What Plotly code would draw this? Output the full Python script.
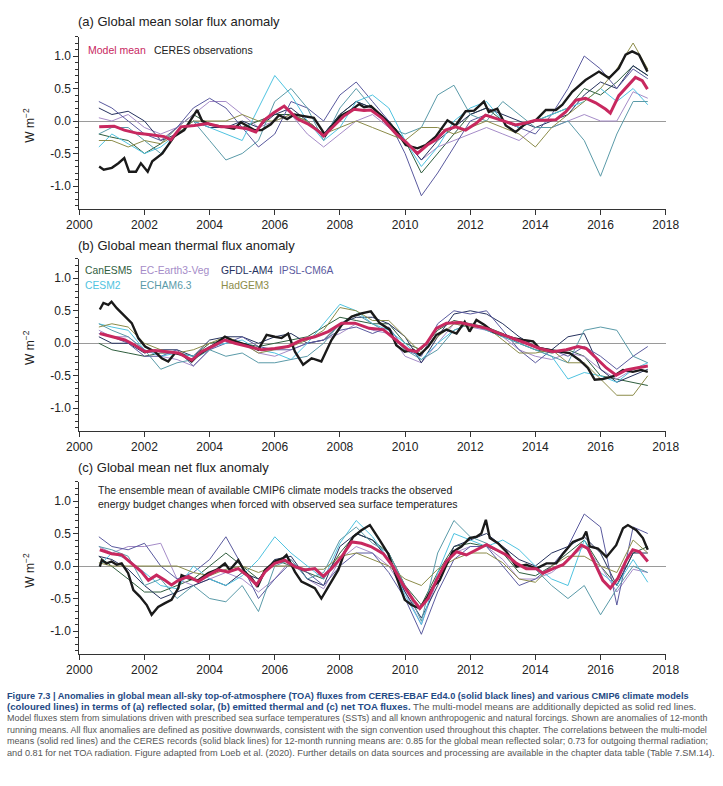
import plotly.graph_objects as go

W, H = 723, 786
FONT = "Liberation Sans, Arial, sans-serif"

# ---------------- data ----------------
model_names = ["CanESM5", "EC-Earth3-Veg", "GFDL-AM4", "IPSL-CM6A", "CESM2", "ECHAM6.3", "HadGEM3"]
model_colors = ["#2f5e3e", "#a58cc8", "#26325e", "#5a5a9e", "#4fc3e0", "#5a9aa8", "#8c8c4a"]

model_years = [2000.6, 2001.0, 2001.5, 2002.0, 2002.5, 2003.0, 2003.5, 2004.0, 2004.5, 2005.0,
               2005.5, 2006.0, 2006.5, 2007.0, 2007.5, 2008.0, 2008.5, 2009.0, 2009.5, 2010.0,
               2010.5, 2011.0, 2011.5, 2012.0, 2012.5, 2013.0, 2013.5, 2014.0, 2014.5, 2015.0,
               2015.5, 2016.0, 2016.5, 2017.0, 2017.45]

# (a) solar
solar_CanESM5 = [-0.2, -0.25, -0.3, -0.5, -0.35, -0.1, 0.1, -0.05, -0.1, -0.1, 0.0, 0.1, 0.1, 0.0, -0.2, 0.1, 0.3, 0.2, 0.0, -0.3, -0.8, -0.5, -0.2, 0.1, 0.2, 0.0, -0.1, 0.0, 0.1, 0.2, 0.5, 0.4, 0.6, 0.85, 0.7]
solar_ECEarth = [0.05, 0.0, 0.1, -0.1, -0.2, -0.1, 0.1, 0.3, 0.3, 0.1, -0.1, 0.0, 0.1, -0.2, -0.4, -0.2, 0.0, 0.1, -0.1, -0.3, -0.6, -0.4, -0.3, -0.2, -0.1, -0.2, -0.3, -0.1, -0.1, 0.0, 0.1, 0.0, 0.0, 0.45, 0.35]
solar_GFDL = [0.2, 0.1, 0.15, 0.0, -0.3, -0.2, 0.0, -0.1, -0.1, 0.0, -0.1, 0.1, 0.2, 0.0, -0.2, 0.1, 0.3, 0.2, 0.0, -0.3, -0.6, -0.3, -0.1, 0.1, 0.2, 0.1, 0.0, -0.1, 0.0, 0.1, 0.4, 0.6, 0.5, 0.85, 0.7]
solar_IPSL = [0.3, 0.2, 0.0, -0.2, -0.3, -0.1, 0.2, 0.35, 0.2, -0.1, -0.4, -0.2, 0.3, 0.2, 0.0, 0.4, 0.6, 0.3, 0.0, -0.5, -1.15, -0.8, -0.4, 0.0, 0.1, 0.0, -0.1, -0.2, 0.1, 0.5, 1.0, 0.8, 0.5, 0.8, 0.65]
solar_CESM2 = [-0.4, -0.2, -0.35, -0.5, -0.4, -0.2, 0.0, -0.1, -0.2, -0.3, 0.2, 0.7, 0.4, 0.0, -0.3, -0.1, 0.3, 0.4, 0.2, -0.3, -0.7, -0.4, 0.0, 0.2, 0.3, 0.0, -0.1, 0.0, 0.1, 0.2, 0.3, 0.5, 0.3, 0.5, 0.25]
solar_ECHAM = [-0.2, -0.1, -0.1, -0.3, -0.5, -0.2, 0.0, -0.3, -0.6, -0.5, -0.3, 0.3, 0.5, 0.2, -0.3, 0.2, 0.5, 0.2, -0.1, -0.2, -0.1, 0.4, 0.55, 0.1, 0.0, 0.3, 0.1, -0.1, -0.1, 0.0, -0.3, -0.85, -0.2, 0.3, 0.3]
solar_HadGEM3 = [-0.3, -0.3, -0.4, -0.3, -0.35, -0.2, 0.0, 0.0, 0.0, 0.1, 0.0, 0.0, 0.1, 0.0, -0.2, -0.1, 0.0, -0.1, -0.2, -0.3, -0.1, -0.1, -0.2, -0.1, 0.0, -0.1, -0.2, -0.4, -0.1, 0.1, 0.3, 0.5, 0.8, 1.2, 0.8]

solar_ceres = [(2000.61, -0.70), (2000.75, -0.75), (2001.0, -0.72), (2001.2, -0.65), (2001.38, -0.57), (2001.53, -0.78),
               (2001.74, -0.78), (2001.89, -0.65), (2002.1, -0.78), (2002.24, -0.62), (2002.55, -0.50), (2002.91, -0.24),
               (2003.22, -0.14), (2003.62, 0.17), (2003.77, 0.0), (2004.04, -0.06), (2004.45, -0.09), (2004.75, -0.12),
               (2004.96, -0.02), (2005.37, -0.14), (2005.6, -0.14), (2005.88, -0.05), (2006.13, 0.09), (2006.38, 0.03),
               (2006.6, 0.10), (2006.9, 0.08), (2007.2, 0.05), (2007.45, -0.14), (2007.55, -0.22), (2007.72, -0.10),
               (2008.03, 0.08), (2008.33, 0.16), (2008.59, 0.26), (2008.74, 0.21), (2008.95, 0.23), (2009.3, 0.07),
               (2009.71, -0.14), (2010.02, -0.37), (2010.38, -0.42), (2010.63, -0.37), (2010.94, -0.24), (2011.3, 0.01),
               (2011.55, -0.07), (2011.86, 0.15), (2012.12, 0.16), (2012.42, 0.30), (2012.57, 0.14), (2012.83, 0.19),
               (2013.09, -0.07), (2013.39, -0.17), (2013.7, -0.04), (2014.01, 0.01), (2014.32, 0.17), (2014.63, 0.17),
               (2014.83, 0.25), (2015.13, 0.45), (2015.54, 0.63), (2015.95, 0.76), (2016.26, 0.66), (2016.56, 0.81),
               (2016.77, 1.02), (2016.97, 1.07), (2017.18, 1.02), (2017.44, 0.76)]
solar_mean = [(2000.61, -0.09), (2001.07, -0.08), (2001.38, -0.14), (2001.79, -0.19), (2002.2, -0.21), (2002.61, -0.24),
              (2002.81, -0.29), (2003.12, -0.09), (2003.53, -0.07), (2003.94, -0.04), (2004.35, -0.09), (2004.75, -0.09),
              (2005.16, -0.12), (2005.42, -0.17), (2005.67, 0.01), (2005.98, 0.13), (2006.29, 0.23), (2006.44, 0.16),
              (2006.7, 0.03), (2007.0, -0.04), (2007.3, -0.14), (2007.5, -0.23), (2007.82, -0.07), (2008.13, 0.08),
              (2008.43, 0.18), (2008.74, 0.16), (2008.95, 0.17), (2009.3, 0.04), (2009.71, -0.19), (2010.02, -0.32),
              (2010.38, -0.50), (2010.68, -0.37), (2010.94, -0.29), (2011.24, -0.14), (2011.55, -0.09), (2011.86, -0.14),
              (2012.17, -0.04), (2012.47, 0.09), (2012.78, 0.04), (2013.09, -0.01), (2013.39, -0.06), (2013.7, -0.03),
              (2014.01, 0.01), (2014.32, 0.01), (2014.63, 0.02), (2014.93, 0.14), (2015.24, 0.32), (2015.54, 0.35),
              (2015.85, 0.28), (2016.16, 0.18), (2016.3, 0.12), (2016.56, 0.39), (2016.87, 0.57), (2017.07, 0.67),
              (2017.28, 0.62), (2017.44, 0.49)]

# (b) thermal
thermal_CanESM5 = [0.0, -0.1, -0.15, -0.2, -0.15, -0.15, -0.2, 0.0, 0.05, 0.0, -0.05, 0.0, 0.05, 0.1, 0.25, 0.4, 0.35, 0.3, 0.3, 0.0, -0.1, 0.2, 0.35, 0.3, 0.25, 0.15, 0.0, -0.1, -0.15, -0.1, -0.2, -0.5, -0.55, -0.6, -0.65]
thermal_ECEarth = [0.2, 0.1, 0.1, -0.1, -0.2, -0.25, -0.35, -0.1, 0.05, 0.0, -0.15, -0.2, -0.1, 0.0, 0.05, 0.15, 0.3, 0.2, 0.15, -0.2, -0.3, 0.0, 0.3, 0.25, 0.2, 0.1, -0.1, -0.2, -0.25, -0.15, -0.2, -0.4, -0.55, -0.4, -0.35]
thermal_GFDL = [0.1, 0.0, 0.0, -0.15, -0.1, -0.1, -0.2, 0.05, 0.1, 0.1, 0.0, 0.1, 0.15, 0.0, 0.05, 0.3, 0.4, 0.4, 0.3, 0.1, -0.3, 0.1, 0.45, 0.5, 0.45, 0.3, 0.1, -0.05, -0.1, 0.1, 0.15, -0.4, -0.6, -0.5, -0.4]
thermal_IPSL = [0.15, 0.1, 0.0, -0.2, -0.2, -0.1, -0.35, -0.1, 0.0, 0.1, -0.05, -0.1, -0.1, 0.0, 0.05, 0.2, 0.25, 0.15, 0.25, -0.1, -0.2, 0.3, 0.5, 0.45, 0.5, 0.2, -0.1, -0.3, -0.1, -0.2, -0.05, -0.2, -0.4, -0.2, -0.05]
thermal_CESM2 = [0.3, 0.25, 0.2, -0.1, -0.2, -0.15, -0.2, -0.05, 0.0, 0.05, -0.1, -0.15, -0.25, 0.0, 0.3, 0.6, 0.5, 0.3, 0.2, 0.0, -0.25, 0.0, 0.2, 0.3, 0.2, 0.1, 0.0, -0.1, -0.2, -0.55, -0.45, -0.5, -0.6, -0.4, -0.3]
thermal_ECHAM = [0.3, 0.2, 0.1, -0.1, -0.4, -0.3, -0.25, -0.1, -0.2, -0.15, -0.3, -0.3, -0.25, -0.2, 0.0, 0.3, 0.45, 0.3, 0.15, -0.1, -0.25, -0.1, 0.2, 0.3, 0.2, 0.1, 0.0, -0.1, -0.2, -0.3, 0.2, 0.25, 0.2, -0.2, -0.3]
thermal_HadGEM3 = [0.25, 0.3, 0.25, 0.0, -0.1, -0.15, -0.1, 0.0, 0.1, 0.0, -0.15, -0.1, -0.05, 0.05, 0.2, 0.55, 0.5, 0.35, 0.35, 0.1, -0.15, 0.1, 0.3, 0.25, 0.25, 0.05, -0.15, -0.15, -0.1, -0.3, -0.3, -0.55, -0.8, -0.8, -0.5]

thermal_ceres = [(2000.63, 0.52), (2000.74, 0.62), (2000.89, 0.59), (2000.99, 0.64), (2001.15, 0.54), (2001.4, 0.41),
                 (2001.61, 0.31), (2001.81, 0.08), (2002.02, -0.05), (2002.32, -0.13), (2002.53, -0.23), (2002.73, -0.28),
                 (2002.94, -0.15), (2003.19, -0.18), (2003.45, -0.28), (2003.65, -0.18), (2003.96, -0.08), (2004.21, 0.0),
                 (2004.47, 0.10), (2004.67, 0.05), (2004.98, 0.0), (2005.29, -0.05), (2005.49, -0.10), (2005.75, 0.13),
                 (2006.0, 0.10), (2006.21, 0.08), (2006.41, 0.15), (2006.62, -0.13), (2006.87, -0.33), (2007.13, -0.23),
                 (2007.43, -0.28), (2007.74, 0.05), (2008.05, 0.28), (2008.36, 0.41), (2008.66, 0.46), (2008.95, 0.49),
                 (2009.22, 0.31), (2009.53, 0.21), (2009.73, -0.03), (2009.99, -0.13), (2010.25, -0.10), (2010.45, -0.18),
                 (2010.71, -0.05), (2010.96, 0.13), (2011.27, 0.21), (2011.58, 0.15), (2011.83, 0.33), (2011.98, 0.18),
                 (2012.19, 0.36), (2012.44, 0.28), (2012.7, 0.18), (2013.01, 0.13), (2013.31, 0.08), (2013.62, 0.05),
                 (2013.93, 0.03), (2014.13, -0.08), (2014.44, -0.10), (2014.75, -0.13), (2015.05, -0.15), (2015.36, -0.26),
                 (2015.61, -0.38), (2015.82, -0.56), (2016.07, -0.55), (2016.38, -0.51), (2016.69, -0.41), (2016.99, -0.44),
                 (2017.25, -0.41), (2017.45, -0.44)]
thermal_mean = [(2000.63, 0.15), (2000.99, 0.10), (2001.4, 0.05), (2001.71, -0.03), (2002.02, -0.13), (2002.32, -0.11),
                (2002.73, -0.13), (2003.04, -0.15), (2003.45, -0.26), (2003.75, -0.13), (2004.16, -0.03), (2004.47, 0.05),
                (2004.78, 0.0), (2005.19, -0.05), (2005.59, -0.10), (2006.0, -0.08), (2006.41, -0.05), (2006.82, 0.05),
                (2007.23, 0.10), (2007.64, 0.18), (2008.05, 0.31), (2008.46, 0.31), (2008.9, 0.23), (2009.33, 0.21),
                (2009.73, 0.05), (2010.09, -0.10), (2010.35, -0.13), (2010.66, 0.0), (2010.96, 0.23), (2011.27, 0.31),
                (2011.68, 0.32), (2012.09, 0.28), (2012.5, 0.23), (2012.91, 0.15), (2013.31, 0.08), (2013.72, 0.0),
                (2014.13, -0.08), (2014.54, -0.13), (2014.95, -0.10), (2015.31, -0.05), (2015.56, -0.08), (2015.87, -0.23),
                (2016.18, -0.38), (2016.48, -0.49), (2016.79, -0.41), (2017.1, -0.38), (2017.45, -0.35)]

# (c) net
net_CanESM5 = [0.15, 0.0, -0.2, -0.4, -0.4, -0.3, -0.2, 0.0, 0.2, 0.0, -0.2, 0.1, 0.0, -0.1, -0.2, 0.2, 0.5, 0.4, 0.2, -0.3, -0.6, -0.1, 0.3, 0.35, 0.3, 0.2, -0.1, -0.15, 0.0, 0.2, 0.4, 0.0, -0.3, 0.2, 0.3]
net_ECEarth = [0.3, 0.2, 0.3, 0.3, 0.35, -0.2, -0.3, -0.2, -0.1, -0.2, -0.4, -0.2, 0.1, -0.2, -0.35, 0.1, 0.3, 0.2, 0.0, -0.4, -0.9, -0.2, 0.2, 0.3, 0.3, 0.1, -0.2, -0.2, -0.1, 0.1, 0.3, 0.0, -0.4, -0.05, -0.1]
net_GFDL = [0.15, 0.1, -0.05, -0.3, -0.5, -0.4, -0.3, -0.2, -0.3, -0.1, -0.2, 0.1, 0.15, -0.2, -0.3, 0.3, 0.5, 0.4, 0.1, -0.4, -0.8, -0.3, 0.3, 0.4, 0.5, 0.3, 0.1, 0.0, 0.2, 0.3, 0.45, 0.2, -0.3, 0.2, 0.2]
net_IPSL = [0.45, 0.3, 0.25, 0.35, 0.0, -0.2, -0.1, 0.1, 0.45, 0.0, -0.5, -0.2, 0.05, -0.1, -0.3, 0.0, 0.2, 0.2, -0.1, -0.5, -1.05, -0.4, 0.1, 0.3, 0.3, 0.0, -0.3, -0.2, 0.0, 0.3, 0.8, 0.6, -0.6, 0.6, 0.5]
net_CESM2 = [0.0, 0.2, 0.1, -0.1, -0.3, -0.35, 0.0, -0.2, -0.3, -0.15, 0.1, 0.45, 0.2, 0.0, -0.2, 0.35, 0.7, 0.45, 0.1, -0.45, -0.9, -0.1, 0.5, 0.4, 0.3, 0.4, 0.25, 0.0, -0.2, -0.3, 0.4, -0.1, -0.3, 0.1, -0.25]
net_ECHAM = [0.3, 0.25, 0.15, -0.3, -0.2, -0.5, -0.3, -0.5, -0.55, -0.3, -0.7, 0.0, 0.1, -0.2, -0.1, 0.4, 0.6, 0.35, 0.2, -0.3, -0.85, 0.2, 0.7, 0.45, 0.35, 0.2, 0.0, -0.05, -0.3, -0.5, -0.3, -0.75, -0.35, 0.0, -0.1]
net_HadGEM3 = [0.05, 0.0, 0.0, 0.0, 0.0, 0.0, -0.1, -0.15, -0.05, 0.0, -0.1, 0.0, 0.0, -0.05, -0.05, 0.15, 0.2, 0.1, 0.0, -0.2, -0.3, -0.05, 0.1, 0.2, 0.2, 0.05, -0.2, -0.25, 0.0, 0.15, 0.15, 0.0, -0.1, 0.4, 0.2]

net_ceres = [(2000.63, -0.01), (2000.69, 0.09), (2000.84, 0.04), (2000.99, 0.07), (2001.15, 0.02), (2001.3, 0.04),
             (2001.5, -0.11), (2001.66, -0.37), (2001.86, -0.47), (2002.07, -0.60), (2002.22, -0.75), (2002.42, -0.63),
             (2002.63, -0.57), (2002.83, -0.52), (2003.04, -0.34), (2003.14, -0.14), (2003.35, -0.19), (2003.65, -0.22),
             (2003.96, -0.11), (2004.21, -0.06), (2004.47, 0.04), (2004.62, -0.06), (2004.88, 0.09), (2005.08, -0.09),
             (2005.29, -0.19), (2005.47, -0.32), (2005.7, -0.06), (2006.0, 0.07), (2006.26, 0.12), (2006.36, 0.17),
             (2006.62, -0.09), (2006.82, -0.24), (2007.03, -0.29), (2007.23, -0.34), (2007.43, -0.50), (2007.64, -0.32),
             (2007.95, -0.06), (2008.15, 0.22), (2008.41, 0.45), (2008.66, 0.55), (2008.92, 0.63), (2009.22, 0.40),
             (2009.48, 0.19), (2009.73, -0.16), (2009.99, -0.52), (2010.2, -0.60), (2010.45, -0.65), (2010.66, -0.50),
             (2010.86, -0.32), (2011.06, -0.22), (2011.27, 0.02), (2011.47, 0.22), (2011.73, 0.30), (2011.98, 0.43),
             (2012.19, 0.45), (2012.34, 0.50), (2012.48, 0.71), (2012.6, 0.43), (2012.85, 0.35), (2013.11, 0.22),
             (2013.42, -0.01), (2013.72, 0.02), (2014.03, -0.04), (2014.34, 0.04), (2014.64, 0.04), (2014.85, 0.19),
             (2015.15, 0.37), (2015.46, 0.43), (2015.56, 0.53), (2015.67, 0.30), (2015.92, 0.27), (2016.18, 0.14),
             (2016.48, 0.32), (2016.69, 0.58), (2016.84, 0.63), (2017.1, 0.55), (2017.3, 0.43), (2017.45, 0.25)]
net_mean = [(2000.63, 0.25), (2000.99, 0.19), (2001.3, 0.17), (2001.61, 0.04), (2001.91, -0.09), (2002.12, -0.22),
            (2002.37, -0.14), (2002.63, -0.22), (2002.83, -0.29), (2003.04, -0.22), (2003.35, -0.16), (2003.65, -0.24),
            (2003.96, -0.14), (2004.27, -0.06), (2004.57, -0.09), (2004.88, -0.04), (2005.19, -0.16), (2005.44, -0.29),
            (2005.7, -0.09), (2006.0, 0.04), (2006.31, 0.09), (2006.62, -0.01), (2006.92, -0.06), (2007.23, -0.04),
            (2007.49, -0.16), (2007.74, -0.04), (2008.05, 0.14), (2008.36, 0.37), (2008.66, 0.35), (2008.95, 0.30),
            (2009.33, 0.19), (2009.63, -0.01), (2009.94, -0.29), (2010.25, -0.52), (2010.45, -0.65), (2010.71, -0.50),
            (2010.96, -0.22), (2011.27, 0.07), (2011.58, 0.22), (2011.88, 0.17), (2012.19, 0.25), (2012.5, 0.33),
            (2012.8, 0.25), (2013.11, 0.17), (2013.42, 0.04), (2013.72, -0.04), (2014.03, -0.04), (2014.23, -0.11),
            (2014.54, -0.04), (2014.85, 0.02), (2015.15, 0.17), (2015.41, 0.32), (2015.61, 0.27), (2015.87, -0.01),
            (2016.07, -0.22), (2016.3, -0.34), (2016.53, -0.19), (2016.79, 0.09), (2016.99, 0.25), (2017.2, 0.22),
            (2017.45, 0.07)]

panel_titles = ["(a) Global mean solar flux anomaly",
                "(b) Global mean thermal flux anomaly",
                "(c) Global mean net flux anomaly"]
x_ticks = [2000, 2002, 2004, 2006, 2008, 2010, 2012, 2014, 2016, 2018]
y_ticks = [-1.0, -0.5, 0.0, 0.5, 1.0]
y_ticklabels = ["-1.0", "-0.5", "0.0", "0.5", "1.0"]

panels = [
    dict(models=[solar_CanESM5, solar_ECEarth, solar_GFDL, solar_IPSL, solar_CESM2, solar_ECHAM, solar_HadGEM3],
         ceres=solar_ceres, mean=solar_mean),
    dict(models=[thermal_CanESM5, thermal_ECEarth, thermal_GFDL, thermal_IPSL, thermal_CESM2, thermal_ECHAM, thermal_HadGEM3],
         ceres=thermal_ceres, mean=thermal_mean),
    dict(models=[net_CanESM5, net_ECEarth, net_GFDL, net_IPSL, net_CESM2, net_ECHAM, net_HadGEM3],
         ceres=net_ceres, mean=net_mean),
]

# ---------------- layout geometry (pixels) ----------------
X0, X1 = 79.3, 665.7
panel_px = [(36.5, 208.75), (258.8, 431.0), (481.5, 653.8)]  # top, bottom of each plot
title_px = [22, 245, 467]
MEAN_COLOR = "#c8285f"

fig = go.Figure()
for i, p in enumerate(panels):
    xa = "x" if i == 0 else f"x{i+1}"
    ya = "y" if i == 0 else f"y{i+1}"
    for name, col, vals in zip(model_names, model_colors, p["models"]):
        fig.add_trace(go.Scatter(x=model_years, y=vals, mode="lines", xaxis=xa, yaxis=ya,
                                 line=dict(color=col, width=1), showlegend=False, hoverinfo="skip"))
    fig.add_trace(go.Scatter(x=[a for a, b in p["ceres"]], y=[b for a, b in p["ceres"]], mode="lines",
                             xaxis=xa, yaxis=ya, line=dict(color="#1a1a1a", width=2.4),
                             showlegend=False, hoverinfo="skip"))
    fig.add_trace(go.Scatter(x=[a for a, b in p["mean"]], y=[b for a, b in p["mean"]], mode="lines",
                             xaxis=xa, yaxis=ya, line=dict(color=MEAN_COLOR, width=3),
                             showlegend=False, hoverinfo="skip"))

layout = dict(width=W, height=H, margin=dict(l=0, r=0, t=0, b=0, pad=0, autoexpand=False),
              paper_bgcolor="white", plot_bgcolor="white", showlegend=False,
              font=dict(family=FONT, color="#222", size=12))

def px_x(x):
    return x / W

def px_y(y):
    return 1 - y / H

for i, (top, bot) in enumerate(panel_px):
    sx = "" if i == 0 else str(i + 1)
    layout[f"xaxis{sx}"] = dict(domain=[px_x(X0), px_x(X1)], range=[2000, 2018], anchor=f"y{sx}",
                                tickvals=x_ticks, ticktext=[str(v) for v in x_ticks], automargin=False,
                                ticks="outside", ticklen=5, tickcolor="#333", tickwidth=1,
                                showline=True, linecolor="#333", linewidth=1, showgrid=False,
                                zeroline=False, tickfont=dict(size=12, family=FONT, color="#222"))
    layout[f"yaxis{sx}"] = dict(domain=[px_y(bot), px_y(top)], range=[-1.35, 1.3], anchor=f"x{sx}",
                                tickvals=y_ticks, ticktext=y_ticklabels, automargin=False,
                                ticks="outside", ticklen=5, tickcolor="#333", tickwidth=1,
                                minor=dict(dtick=0.1, tick0=0, ticks="outside", ticklen=3, tickcolor="#333"),
                                showline=True, linecolor="#333", linewidth=1, showgrid=False,
                                zeroline=True, zerolinecolor="#9a9a9a", zerolinewidth=1.3,
                                tickfont=dict(size=12, family=FONT, color="#222"))

annotations = []
for i, t in enumerate(panel_titles):
    annotations.append(dict(text=t, x=px_x(76), y=px_y(title_px[i]), xref="paper", yref="paper",
                            xanchor="left", yanchor="middle", showarrow=False,
                            font=dict(size=13, family=FONT, color="#222")))
    mid = (panel_px[i][0] + panel_px[i][1]) / 2 + 3
    annotations.append(dict(text="W m<sup>−2</sup>", x=px_x(29), y=px_y(mid), xref="paper", yref="paper",
                            xanchor="center", yanchor="middle", textangle=-90, showarrow=False,
                            font=dict(size=12, family=FONT, color="#222")))

# panel a legend
annotations.append(dict(text="Model mean", x=px_x(86), y=px_y(50), xref="paper", yref="paper",
                        xanchor="left", yanchor="middle", showarrow=False,
                        font=dict(size=10.5, family=FONT, color=MEAN_COLOR)))
annotations.append(dict(text="CERES observations", x=px_x(152), y=px_y(50), xref="paper", yref="paper",
                        xanchor="left", yanchor="middle", showarrow=False,
                        font=dict(size=10.5, family=FONT, color="#222")))
# panel b legend
legend_pos = [(83, 270), (137.5, 270), (219, 270), (276.5, 270), (83, 285.5), (137.5, 285.5), (219, 285.5)]
for name, col, (lx, ly) in zip(model_names, model_colors, legend_pos):
    annotations.append(dict(text=name, x=px_x(lx), y=px_y(ly), xref="paper", yref="paper",
                            xanchor="left", yanchor="middle", showarrow=False,
                            font=dict(size=10.3, family=FONT, color=col)))
# panel c note
annotations.append(dict(text="The ensemble mean of available CMIP6 climate models tracks the observed<br>"
                             "energy budget changes when forced with observed sea surface temperatures",
                        x=px_x(96), y=px_y(497), xref="paper", yref="paper", align="left",
                        xanchor="left", yanchor="middle", showarrow=False,
                        font=dict(size=10.5, family=FONT, color="#222")))

# caption
BLUE = "#1f4a85"
GREY = "#555555"
caption_lines = [
    f"<b><span style='color:{BLUE}'>Figure 7.3 | Anomalies in global mean all-sky top-of-atmosphere (TOA) fluxes from CERES-EBAF Ed4.0 (solid black lines) and various CMIP6 climate models</span></b>",
    f"<b><span style='color:{BLUE}'>(coloured lines) in terms of (a) reflected solar, (b) emitted thermal and (c) net TOA fluxes.</span></b> The multi-model means are additionally depicted as solid red lines.",
    "Model fluxes stem from simulations driven with prescribed sea surface temperatures (SSTs) and all known anthropogenic and natural forcings. Shown are anomalies of 12-month",
    "running means. All flux anomalies are defined as positive downwards, consistent with the sign convention used throughout this chapter. The correlations between the multi-model",
    "means (solid red lines) and the CERES records (solid black lines) for 12-month running means are: 0.85 for the global mean reflected solar; 0.73 for outgoing thermal radiation;",
    "and 0.81 for net TOA radiation. Figure adapted from Loeb et al. (2020). Further details on data sources and processing are available in the chapter data table (Table 7.SM.14).",
]
caption_sizes = [9.2, 9.6, 8.95, 8.95, 9.05, 9.2]
for k, (line, fs) in enumerate(zip(caption_lines, caption_sizes)):
    annotations.append(dict(text=line, x=px_x(5), y=px_y(695.5 + k * 11.4), xref="paper", yref="paper",
                            xanchor="left", yanchor="middle", showarrow=False,
                            font=dict(size=fs, family=FONT, color=GREY)))

layout["annotations"] = annotations
fig.update_layout(**layout)
fig.write_html("out.html", config={"displayModeBar": False},
               post_script="document.body.style.margin='0px';document.body.style.padding='0px';")
